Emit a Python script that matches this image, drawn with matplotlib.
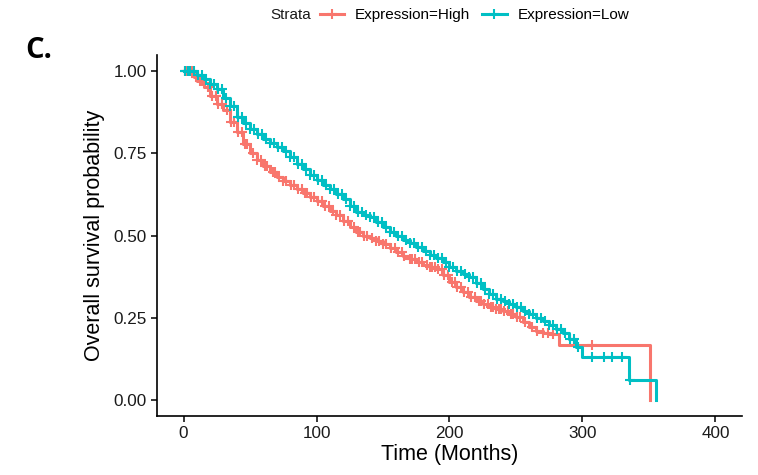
import matplotlib
matplotlib.use("Agg")
import numpy as np
import matplotlib.pyplot as plt
from matplotlib.lines import Line2D

plt.rcParams['font.family'] = ['Liberation Sans', 'DejaVu Sans']

# Kaplan-Meier estimates (time in months, survival)
high_time = [0, 3, 7.5, 10, 15, 20, 25, 30, 35, 40, 45, 50, 55, 60, 65, 70, 75, 80,
             85, 90, 95, 100, 105, 110, 115, 120, 125, 130, 135, 140, 145, 150, 155,
             160, 165, 170, 175, 180, 185, 190, 195, 200, 205, 210, 215, 220, 225,
             230, 235, 240, 245, 250, 255, 260, 265, 270, 275, 282, 351]
high_surv = [1.0, 1.0, 0.983, 0.970, 0.952, 0.925, 0.900, 0.881, 0.845, 0.815, 0.780,
             0.752, 0.730, 0.712, 0.695, 0.678, 0.665, 0.653, 0.641, 0.629, 0.617,
             0.604, 0.590, 0.576, 0.562, 0.545, 0.527, 0.512, 0.500, 0.492, 0.484,
             0.474, 0.462, 0.450, 0.438, 0.428, 0.419, 0.410, 0.403, 0.397, 0.380,
             0.358, 0.343, 0.328, 0.312, 0.300, 0.290, 0.281, 0.276, 0.271, 0.262,
             0.251, 0.236, 0.220, 0.210, 0.203, 0.201, 0.165, 0.0]

low_time = [0, 7, 10, 15, 20, 25, 30, 35, 40, 45, 50, 55, 60, 65, 70, 75, 80, 85, 90,
            95, 100, 105, 110, 115, 120, 125, 130, 135, 140, 145, 150, 155, 160, 165,
            170, 175, 180, 185, 190, 195, 200, 205, 210, 215, 220, 225, 230, 235, 240,
            245, 250, 255, 260, 265, 270, 275, 280, 285, 290, 295, 300, 335, 355]
low_surv = [1.0, 1.0, 0.990, 0.978, 0.962, 0.945, 0.920, 0.895, 0.861, 0.843, 0.825,
            0.808, 0.793, 0.782, 0.770, 0.759, 0.738, 0.718, 0.703, 0.685, 0.668,
            0.655, 0.643, 0.627, 0.610, 0.590, 0.572, 0.563, 0.556, 0.540, 0.525,
            0.510, 0.498, 0.487, 0.476, 0.464, 0.452, 0.441, 0.430, 0.420, 0.403,
            0.393, 0.383, 0.373, 0.355, 0.338, 0.322, 0.308, 0.300, 0.292, 0.282,
            0.271, 0.261, 0.250, 0.238, 0.226, 0.215, 0.203, 0.185, 0.160, 0.129,
            0.061, 0.0]

# censoring times
high_cens = [1, 2, 4, 6, 9, 12, 14, 18, 21, 24, 26, 29, 33, 36, 38, 41, 44, 46, 48, 52,
             55, 58, 61, 63, 67, 69, 72, 75, 77, 81, 83, 86, 89, 91, 93, 96, 98, 101,
             104, 106, 109, 112, 115, 118, 121, 124, 128, 131, 133, 136, 138, 142, 145,
             147, 150, 152, 156, 159, 161, 164, 166, 170, 172, 174, 177, 179, 183, 185,
             187, 189, 191, 194, 196, 199, 202, 204, 206, 209, 211, 214, 216, 219, 222,
             224, 226, 229, 231, 233, 235, 237, 239, 241, 244, 246, 248, 251, 253, 257,
             262, 266, 270, 274, 278, 307]
low_cens = [1, 3, 5, 8, 11, 14, 17, 20, 23, 26, 29, 32, 35, 38, 41, 44, 47, 50, 53, 56,
            59, 62, 65, 68, 71, 74, 77, 80, 83, 86, 89, 92, 95, 98, 101, 104, 107, 110,
            113, 116, 119, 122, 125, 128, 131, 134, 137, 140, 143, 146, 149, 152, 155,
            158, 161, 164, 167, 170, 173, 176, 179, 182, 185, 188, 191, 194, 197, 200,
            203, 206, 209, 212, 215, 218, 221, 224, 227, 230, 233, 236, 239, 242, 245,
            248, 251, 254, 257, 260, 263, 266, 269, 272, 275, 278, 281, 284, 287, 291,
            294, 297, 307, 316, 322, 330, 336]

groups = ["Expression=High", "Expression=Low"]
colors = ["#F8766D", "#00BFC4"]


def surv_at(times, surv, t):
    idx = np.searchsorted(times, t, side='right') - 1
    return np.array(surv)[idx]


fig = plt.figure(figsize=(7.58, 4.75), dpi=100)
ax = fig.add_axes([157 / 758, 1 - 416 / 475, 585 / 758, 361 / 475])

for tt, ss, cc, col in [(high_time, high_surv, high_cens, colors[0]),
                        (low_time, low_surv, low_cens, colors[1])]:
    ax.plot(tt, ss, drawstyle='steps-post', color=col, lw=2.2)
    ax.plot(cc, surv_at(tt, ss, cc), ls='none', marker='+', color=col,
            ms=7.5, mew=1.5)

ax.set_xlim(-20, 420)
ax.set_ylim(-0.05, 1.05)
ax.set_xticks([0, 100, 200, 300, 400])
ax.set_yticks([0, 0.25, 0.5, 0.75, 1.0])
ax.set_yticklabels(["0.00", "0.25", "0.50", "0.75", "1.00"])
ax.tick_params(labelsize=12.3, colors='black', length=4, width=1.1, labelcolor='#1a1a1a')
for s in ['top', 'right']:
    ax.spines[s].set_visible(False)
for s in ['left', 'bottom']:
    ax.spines[s].set_linewidth(1.2)
ax.set_xlabel("Time (Months)", fontsize=15.5, labelpad=2)
ax.set_ylabel("Overall survival probability", fontsize=15.5, labelpad=6)

fig.text(25 / 758, 1 - 58 / 475, "C.", fontsize=21, fontweight='bold',
         family=['Open Sans', 'DejaVu Sans'], va='baseline')

fig.text(270 / 758, 1 - 15 / 475, "Strata", fontsize=11, va='center', color='#1a1a1a')
handles = [Line2D([], [], color=c, lw=2.2, marker='+', ms=7.5, mew=1.5) for c in colors]
fig.legend(handles, groups, loc='center left', bbox_to_anchor=(312 / 758, 1 - 15 / 475),
           ncol=2, frameon=False, fontsize=11, handlelength=1.6, handletextpad=0.7,
           columnspacing=0.8, borderpad=0)

fig.savefig("out.png", dpi=100)
